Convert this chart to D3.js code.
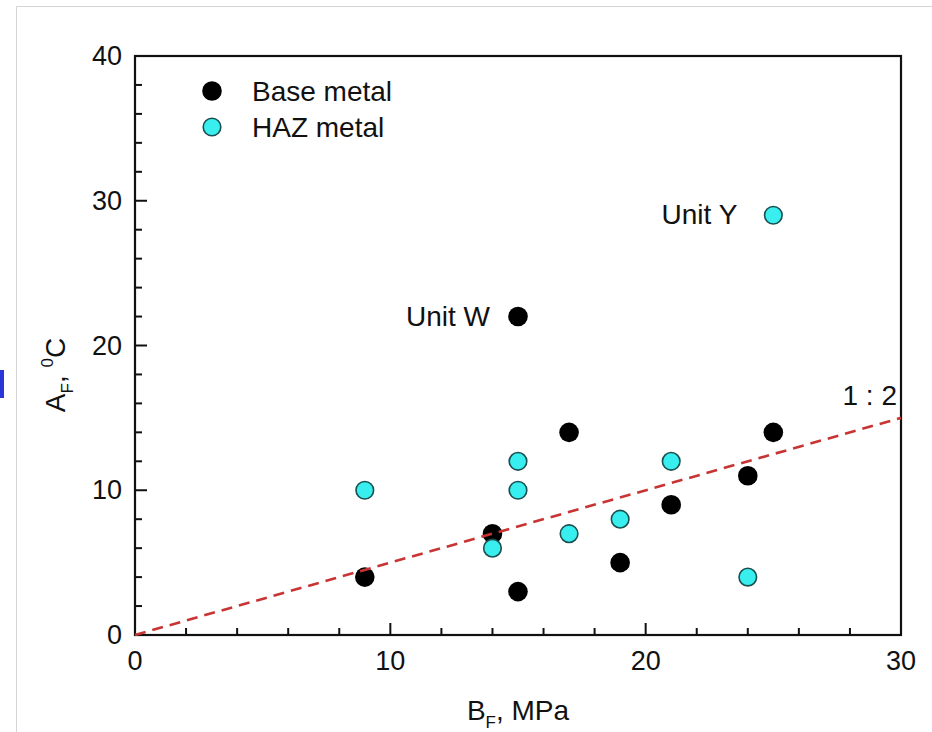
<!DOCTYPE html>
<html>
<head>
<meta charset="utf-8">
<script src="https://cdn.jsdelivr.net/npm/d3@7"></script>
<style>
  body { margin: 0; background: #fff; }
  svg text { font-family: Arial, "Liberation Sans", sans-serif; fill: #111; }
</style>
</head>
<body>
<svg id="chart" width="932" height="732"></svg>
<script>
// data
const baseX = [9, 14, 15, 15, 17, 19, 21, 24, 25]
const baseY = [4, 7, 3, 22, 14, 5, 9, 11, 14]
const hazX = [9, 14, 15, 15, 17, 19, 21, 24, 25]
const hazY = [10, 6, 10, 12, 7, 8, 12, 4, 29]
const ratioLine = [[0, 0], [30, 15]]
const xTicks = [0, 10, 20, 30]
const yTicks = [0, 10, 20, 30, 40]
const labels = [
  { text: 'Unit W', x: 15, y: 22 },
  { text: 'Unit Y', x: 25, y: 29 }
]
const labelGap = [28, 36]

const svg = d3.select('#chart')

const x = d3.scaleLinear().domain([0, 30]).range([135, 901])
const y = d3.scaleLinear().domain([0, 40]).range([635, 56])

// page frame
svg.append('path')
  .attr('d', 'M16.5,732 L16.5,6.5 L932,6.5')
  .attr('fill', 'none')
  .attr('stroke', '#d4d4d4')
  .attr('stroke-width', 1)

svg.append('rect')
  .attr('x', 0).attr('y', 370)
  .attr('width', 4).attr('height', 28)
  .attr('fill', '#2b35d8')

// ticks, pointing inward
const xMinor = d3.range(0, 31, 2).filter(d => d % 10 !== 0)
const yMinor = d3.range(0, 41, 2).filter(d => d % 10 !== 0)

const ticks = svg.append('g').attr('stroke', '#111').attr('stroke-width', 2)

ticks.selectAll('.xmin').data(xMinor).enter().append('line')
  .attr('x1', d => x(d)).attr('x2', d => x(d))
  .attr('y1', y(0)).attr('y2', y(0) - 7)
ticks.selectAll('.xmaj').data(xTicks.slice(1, -1)).enter().append('line')
  .attr('x1', d => x(d)).attr('x2', d => x(d))
  .attr('y1', y(0)).attr('y2', y(0) - 12)
ticks.selectAll('.ymin').data(yMinor).enter().append('line')
  .attr('y1', d => y(d)).attr('y2', d => y(d))
  .attr('x1', x(0)).attr('x2', x(0) + 7)
ticks.selectAll('.ymaj').data(yTicks.slice(1, -1)).enter().append('line')
  .attr('y1', d => y(d)).attr('y2', d => y(d))
  .attr('x1', x(0)).attr('x2', x(0) + 12)

// frame of plot
svg.append('rect')
  .attr('x', x(0)).attr('y', y(40))
  .attr('width', x(30) - x(0)).attr('height', y(0) - y(40))
  .attr('fill', 'none')
  .attr('stroke', '#111')
  .attr('stroke-width', 2.2)

// tick labels
svg.selectAll('.xl').data(xTicks).enter().append('text')
  .attr('x', d => x(d)).attr('y', y(0) + 35)
  .attr('text-anchor', 'middle')
  .attr('font-size', 27)
  .text(d => d)

svg.selectAll('.yl').data(yTicks).enter().append('text')
  .attr('x', x(0) - 13).attr('y', d => y(d) + 9)
  .attr('text-anchor', 'end')
  .attr('font-size', 27)
  .text(d => d)

// axis titles
const xt = svg.append('text')
  .attr('x', 518).attr('y', 720)
  .attr('text-anchor', 'middle')
  .attr('font-size', 28)
xt.append('tspan').text('B')
xt.append('tspan').attr('font-size', 17).attr('dy', 8).text('F')
xt.append('tspan').attr('dy', -8).text(', MPa')

const yt = svg.append('text')
  .attr('transform', 'translate(65,375) rotate(-90)')
  .attr('text-anchor', 'middle')
  .attr('font-size', 28)
yt.append('tspan').text('A')
yt.append('tspan').attr('font-size', 17).attr('dy', 8).text('F')
yt.append('tspan').attr('dy', -8).text(', ')
yt.append('tspan').attr('font-size', 17).attr('dy', -12).text('0')
yt.append('tspan').attr('dy', 12).text('C')

// points
svg.selectAll('.base').data(baseX).enter().append('circle')
  .attr('cx', d => x(d))
  .attr('cy', (d, i) => y(baseY[i]))
  .attr('r', 9.8)
  .attr('fill', '#000')

svg.selectAll('.haz').data(hazX).enter().append('circle')
  .attr('cx', d => x(d))
  .attr('cy', (d, i) => y(hazY[i]))
  .attr('r', 8.8)
  .attr('fill', '#38eeee')
  .attr('stroke', '#1b4f50')
  .attr('stroke-width', 1.6)

// 1:2 line, drawn over the points
svg.append('path')
  .datum(ratioLine)
  .attr('d', d3.line().x(d => x(d[0])).y(d => y(d[1])))
  .attr('fill', 'none')
  .attr('stroke', '#c83434')
  .attr('stroke-width', 2.6)
  .attr('stroke-dasharray', '11,7')

svg.append('text')
  .attr('x', x(30) - 4).attr('y', y(15) - 13)
  .attr('text-anchor', 'end')
  .attr('font-size', 28)
  .text('1 : 2')

svg.selectAll('.lab').data(labels).enter().append('text')
  .attr('x', (d, i) => x(d.x) - labelGap[i])
  .attr('y', d => y(d.y) + 9)
  .attr('text-anchor', 'end')
  .attr('font-size', 28)
  .text(d => d.text)

// legend
const legend = [
  { name: 'Base metal', fill: '#000', stroke: 'none' },
  { name: 'HAZ metal', fill: '#38eeee', stroke: '#1b4f50' }
]
const lg = svg.selectAll('.lg').data(legend).enter().append('g')
  .attr('transform', (d, i) => `translate(212,${91 + i * 36})`)
lg.append('circle')
  .attr('r', d => d.stroke === 'none' ? 9.8 : 8.8)
  .attr('fill', d => d.fill)
  .attr('stroke', d => d.stroke)
  .attr('stroke-width', 1.6)
lg.append('text')
  .attr('x', 40).attr('y', 10)
  .attr('font-size', 28)
  .text(d => d.name)
</script>
</body>
</html>
